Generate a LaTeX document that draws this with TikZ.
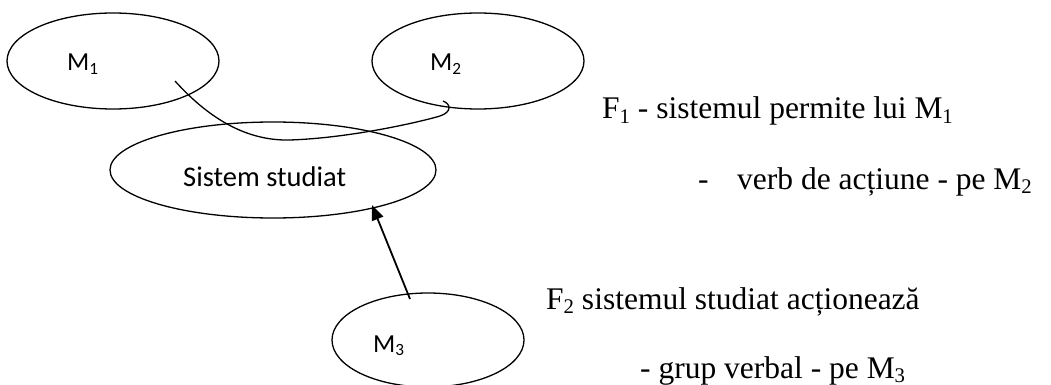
\documentclass[tikz,border=0pt]{standalone}
\usepackage{fontspec}
\usepackage{graphicx}
\usetikzlibrary{shapes.geometric,arrows.meta}
\newfontfamily\labelfont{Carlito}
\newfontfamily\notefont{Liberation Serif}
% lowered, reduced index as used in M1, F1, ...
\newcommand\lowidx[1]{\raisebox{-0.14em}{\scalebox{0.66}{#1}}}
\begin{document}
\begin{tikzpicture}[x=1pt,y=-1pt,
  blob/.style={draw,ellipse,line width=1.3pt,inner sep=0pt},
  mtext/.style={anchor=base west,inner sep=0pt,font=\labelfont\fontsize{26}{30}\selectfont},
  systext/.style={anchor=base west,inner sep=0pt,font=\labelfont\fontsize{28.5}{32}\selectfont},
  note/.style={anchor=base west,inner sep=0pt,font=\notefont\fontsize{31.5}{36}\selectfont},
  link/.style={line width=1.3pt},
  push/.style={line width=1.8pt,-{Triangle[length=15pt,width=12pt]}}]
\useasboundingbox (0,0) rectangle (1051,385);

% the four parties
\node[blob,minimum width=212pt,minimum height=96pt] (m1) at (113,61) {};
\node[blob,minimum width=212pt,minimum height=96pt] (m2) at (478,61) {};
\node[blob,minimum width=326pt,minimum height=96pt] (sys) at (273,170) {};
\node[blob,minimum width=192pt,minimum height=94pt] (m3) at (428,340) {};

\node[mtext] (m1t) at (67,71) {M\lowidx{1}};
\node[mtext] (m2t) at (430,71) {M\lowidx{2}};
\node[systext] (syst) at (183,186) {Sistem studiat};
\node[mtext] (m3t) at (373,352) {M\lowidx{3}};

% F1: link from M1 to M2 passing through the system
\coordinate (c1) at (175,81);
\coordinate (c2) at (443,101);
\draw[link] (c1) .. controls (212,122) and (250,141) .. (290,140)
  .. controls (350,138) and (420,122) .. (440,116)
  .. controls (452,112) and (451,104) .. (c2);

% F2: M3 acts on the system
\coordinate (a0) at (410,299);
\coordinate (a1) at (372,205);
\draw[push] (a0) -- (a1);

% function descriptions
\node[note] (f1) at (602,119) {F\lowidx{1} - sistemul permite lui M\lowidx{1}};
\node[note] (f1b) at (698,189) {\makebox[39pt][l]{-}verb de acțiune - pe M\lowidx{2}};
\node[note] (f2) at (546,309) {F\lowidx{2} sistemul studiat acționează};
\node[note] (f2b) at (640,378) {- grup verbal - pe M\lowidx{3}};
\end{tikzpicture}
\end{document}
